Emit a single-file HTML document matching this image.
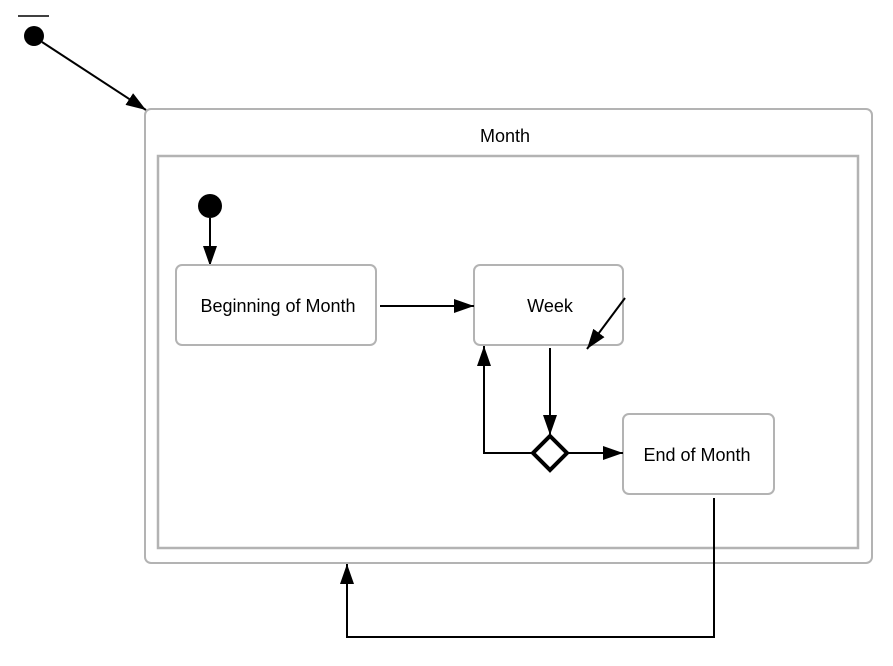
<!DOCTYPE html>
<html><head><meta charset="utf-8"><style>
html,body{margin:0;padding:0;background:#fff;width:893px;height:666px;overflow:hidden}
text{font-family:"Liberation Sans",sans-serif;font-size:18px;fill:#000}
</style></head><body>
<svg width="893" height="666" viewBox="0 0 893 666" xmlns="http://www.w3.org/2000/svg">
<defs>
<marker id="b" viewBox="0 0 20 14" refX="20" refY="7" markerWidth="20" markerHeight="14" markerUnits="userSpaceOnUse" orient="auto">
<path d="M0,0 L20,7 L0,14 z" fill="#000"/></marker>
</defs>
<line x1="18" y1="16" x2="49" y2="16" stroke="#000" stroke-width="1.5"/>
<circle cx="34" cy="36" r="10" fill="#000"/>
<line x1="42" y1="42" x2="146" y2="110" stroke="#000" stroke-width="2" marker-end="url(#b)"/>
<rect x="145" y="109" width="727" height="454" rx="6" fill="none" stroke="#b3b3b3" stroke-width="2"/>
<text x="505" y="142" text-anchor="middle">Month</text>
<rect x="158" y="156" width="700" height="392" fill="none" stroke="#b3b3b3" stroke-width="2.5"/>
<circle cx="210" cy="206" r="12" fill="#000"/>
<line x1="210" y1="218" x2="210" y2="266" stroke="#000" stroke-width="2" marker-end="url(#b)"/>
<rect x="176" y="265" width="200" height="80" rx="6" fill="#fff" stroke="#b3b3b3" stroke-width="2"/>
<text x="278" y="312" text-anchor="middle">Beginning of Month</text>
<rect x="474" y="265" width="149" height="80" rx="6" fill="#fff" stroke="#b3b3b3" stroke-width="2"/>
<text x="550" y="312" text-anchor="middle">Week</text>
<rect x="623" y="414" width="151" height="80" rx="6" fill="#fff" stroke="#b3b3b3" stroke-width="2"/>
<text x="697" y="461" text-anchor="middle">End of Month</text>
<line x1="380" y1="306" x2="474" y2="306" stroke="#000" stroke-width="2" marker-end="url(#b)"/>
<line x1="625" y1="298" x2="587" y2="349" stroke="#000" stroke-width="2" marker-end="url(#b)"/>
<line x1="550" y1="348" x2="550" y2="435" stroke="#000" stroke-width="2" marker-end="url(#b)"/>
<polyline points="533,453 484,453 484,346" fill="none" stroke="#000" stroke-width="2" marker-end="url(#b)"/>
<line x1="568" y1="453" x2="623" y2="453" stroke="#000" stroke-width="2" marker-end="url(#b)"/>
<polygon points="550,436 567,453 550,470 533,453" fill="#fff" stroke="#000" stroke-width="4"/>
<polyline points="714,498 714,637 347,637 347,564" fill="none" stroke="#000" stroke-width="2" marker-end="url(#b)"/>
</svg>
</body></html>
